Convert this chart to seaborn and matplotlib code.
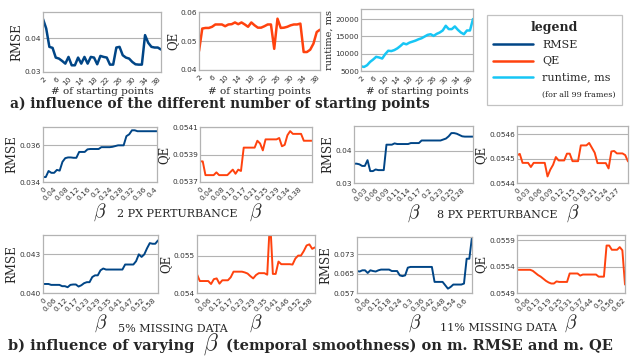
import numpy as np
import matplotlib
matplotlib.use('Agg')
import matplotlib.pyplot as plt
import seaborn as sns
from matplotlib.lines import Line2D
from matplotlib.ticker import MultipleLocator

sns.set_style('white')
plt.rcParams['font.family'] = ['DejaVu Sans']
plt.rcParams['mathtext.fontset'] = 'cm'

RMSE_COLOR = '#004586'
QE_COLOR = '#ff420e'
RUNTIME_COLOR = '#17c6f5'
GRID = '#b3b3b3'
SERIF = 'DejaVu Serif'

# a) number of starting points
starting_points = list(range(2, 40))
sp_ticks = [2, 6, 10, 14, 18, 22, 26, 30, 34, 38]
rmse_sp = [0.0458, 0.043, 0.0375, 0.0372, 0.0343, 0.034, 0.0333, 0.0325, 0.0345, 0.032,
           0.032, 0.0343, 0.0325, 0.0345, 0.0325, 0.0345, 0.0343, 0.0323, 0.0348, 0.0345,
           0.0343, 0.0322, 0.0322, 0.0373, 0.0375, 0.035, 0.0343, 0.034, 0.033, 0.0323,
           0.0322, 0.0322, 0.041, 0.0387, 0.0375, 0.0373, 0.0373, 0.0367]
qe_sp = [0.0465, 0.0543, 0.0545, 0.0545, 0.0549, 0.0557, 0.0557, 0.0557, 0.0551, 0.0557,
         0.0558, 0.0564, 0.0558, 0.0564, 0.0557, 0.0549, 0.0564, 0.0554, 0.0546, 0.0546,
         0.0551, 0.0557, 0.0557, 0.0473, 0.0577, 0.0545, 0.0546, 0.0549, 0.0554, 0.0557,
         0.0557, 0.056, 0.0462, 0.0462, 0.047, 0.0491, 0.0531, 0.0539]
runtime_sp = [6360, 6170, 6660, 7630, 8310, 9090, 8900, 8600, 9870, 10850,
              10750, 11040, 11530, 12210, 12990, 12700, 13190, 13480, 13770, 14160,
              14450, 14940, 15430, 15620, 15130, 15720, 16110, 16700, 18060, 17090,
              17090, 17870, 16890, 16110, 15620, 16700, 16700, 20000]

# b) varying beta, one list per condition
beta_2px_labels = ['0', '0.04', '0.08', '0.12', '0.16', '0.2', '0.24', '0.28', '0.32', '0.36', '0.4']
rmse_2px = [0.03427, 0.03427, 0.0346, 0.0345, 0.0345, 0.03466, 0.03462, 0.0351, 0.0353, 0.03534,
            0.03534, 0.03532, 0.03532, 0.03564, 0.03564, 0.03564, 0.03578, 0.0358, 0.0358, 0.0358,
            0.0358, 0.0359, 0.0359, 0.0359, 0.0359, 0.03592, 0.03596, 0.036, 0.036, 0.036,
            0.0365, 0.0366, 0.03682, 0.03682, 0.03677, 0.03677, 0.03677, 0.03677, 0.03677, 0.03677,
            0.03677, 0.03677]
beta_2px_qe_labels = ['0', '0.04', '0.08', '0.13', '0.17', '0.21', '0.25', '0.29', '0.34', '0.38']
qe_2px = [0.05385, 0.05385, 0.05375, 0.05375, 0.05375, 0.05375, 0.05377, 0.05375, 0.05375, 0.05375,
          0.05375, 0.05377, 0.05379, 0.05376, 0.05379, 0.05378, 0.05395, 0.05395, 0.05395, 0.05395,
          0.05395, 0.054, 0.05398, 0.05393, 0.05401, 0.05401, 0.05401, 0.05401, 0.05401, 0.05402,
          0.05396, 0.05397, 0.05404, 0.05407, 0.05405, 0.05405, 0.05405, 0.05405, 0.054, 0.054,
          0.054, 0.054]

beta_8px_labels = ['0', '0.03', '0.06', '0.09', '0.11', '0.14', '0.17', '0.2', '0.23', '0.25', '0.28']
rmse_8px = [0.036, 0.036, 0.0358, 0.0353, 0.0353, 0.0371, 0.0337, 0.0337, 0.0342, 0.034,
            0.034, 0.034, 0.0419, 0.0419, 0.0419, 0.0423, 0.0421, 0.0421, 0.0421, 0.0421,
            0.0421, 0.0424, 0.0424, 0.0424, 0.0424, 0.0432, 0.0432, 0.0432, 0.0432, 0.0432,
            0.0432, 0.0432, 0.0432, 0.0435, 0.0438, 0.0445, 0.0455, 0.0455, 0.0453, 0.0449,
            0.0445, 0.0444, 0.0444, 0.0444, 0.0444]
beta_8px_qe_labels = ['0', '0.03', '0.06', '0.09', '0.12', '0.15', '0.18', '0.21', '0.24', '0.27']
qe_8px = [0.054514, 0.05452, 0.054483, 0.054483, 0.054483, 0.054466, 0.054483, 0.054483, 0.054483, 0.054483,
          0.054483, 0.054427, 0.054455, 0.054475, 0.054507, 0.054493, 0.054493, 0.054493, 0.054521, 0.054521,
          0.05449, 0.05449, 0.05449, 0.054555, 0.054555, 0.054555, 0.054565, 0.054545, 0.054525, 0.054482,
          0.054482, 0.054482, 0.054482, 0.05446, 0.05453, 0.054532, 0.054522, 0.054522, 0.054522, 0.054515,
          0.054489]

beta_5_labels = ['0', '0.06', '0.12', '0.17', '0.23', '0.29', '0.35', '0.41', '0.47', '0.52', '0.58']
rmse_5 = [0.0407, 0.0407, 0.0407, 0.04063, 0.04063, 0.04063, 0.04063, 0.04053, 0.04053, 0.04045,
          0.04063, 0.04066, 0.04066, 0.0405, 0.0406, 0.04076, 0.04084, 0.04084, 0.04124, 0.04137,
          0.04137, 0.04176, 0.0419, 0.04182, 0.04182, 0.04182, 0.04182, 0.04182, 0.04182, 0.04182,
          0.04221, 0.04221, 0.04221, 0.04221, 0.04247, 0.043, 0.0428, 0.043, 0.04347, 0.04387,
          0.04382, 0.04382, 0.04408]
beta_5_qe_labels = ['0', '0.06', '0.12', '0.17', '0.23', '0.29', '0.35', '0.41', '0.46', '0.52', '0.58']
qe_5 = [0.0545, 0.05432, 0.05432, 0.05432, 0.05432, 0.05424, 0.05437, 0.05439, 0.05425, 0.05434,
        0.05434, 0.05434, 0.05442, 0.05457, 0.05457, 0.05457, 0.05457, 0.05455, 0.05452, 0.05445,
        0.05439, 0.05448, 0.05453, 0.05453, 0.05453, 0.05449, 0.0560, 0.05451, 0.05451, 0.05484,
        0.05477, 0.05477, 0.05477, 0.05477, 0.05476, 0.05492, 0.055, 0.055, 0.05512, 0.05527,
        0.0553, 0.05518, 0.05522]

beta_11_labels = ['0', '0.06', '0.12', '0.18', '0.24', '0.3', '0.36', '0.42', '0.48', '0.54', '0.6']
rmse_11 = [0.0661, 0.0659, 0.0664, 0.0664, 0.0653, 0.0664, 0.0661, 0.0659, 0.0664, 0.0667,
           0.0667, 0.0667, 0.0667, 0.0661, 0.0661, 0.0661, 0.0643, 0.064, 0.0643, 0.0675,
           0.0678, 0.0678, 0.0678, 0.0678, 0.0678, 0.0678, 0.0678, 0.0678, 0.0678, 0.0616,
           0.0616, 0.0616, 0.0616, 0.0602, 0.0588, 0.0595, 0.0605, 0.0605, 0.0605, 0.0605,
           0.0609, 0.0712, 0.0712, 0.0802]
beta_11_qe_labels = ['0', '0.06', '0.13', '0.19', '0.25', '0.31', '0.37', '0.44', '0.5', '0.56', '0.62']
qe_11 = [0.05534, 0.05534, 0.05534, 0.05534, 0.05534, 0.05534, 0.05532, 0.05528, 0.05524, 0.05521,
         0.05517, 0.05513, 0.0551, 0.05508, 0.05508, 0.05512, 0.05511, 0.05511, 0.05511, 0.05511,
         0.05527, 0.05527, 0.05527, 0.05527, 0.05523, 0.05525, 0.05525, 0.05525, 0.05525, 0.05525,
         0.05525, 0.05521, 0.05521, 0.05521, 0.0558, 0.0558, 0.05572, 0.05572, 0.05572, 0.05577,
         0.05571, 0.05506]

W, H = 630, 356
fig = plt.figure(figsize=(W / 100, H / 100), dpi=100)


def rect(x0, y0, x1, y1):
    # pixel box -> figure fraction
    return [x0 / W, 1 - y1 / H, (x1 - x0) / W, (y1 - y0) / H]


def panel(box, x, y, color, xticks, xlabels, yticks, ylabels, ylim, ylabel,
          xlabel, label_drop, minor, lw=1.4, ysize=8.5):
    ax = fig.add_axes(rect(*box))
    sns.lineplot(x=x, y=y, ax=ax, color=color, linewidth=lw)
    ax.set_xlim(x[0], x[-1])
    ax.set_ylim(ylim)
    ax.set_yticks(yticks)
    ax.set_yticklabels(ylabels)
    ax.set_xticks(xticks)
    ax.set_xticklabels(xlabels)
    ax.xaxis.set_minor_locator(MultipleLocator(minor))
    plt.setp(ax.get_xticklabels(), rotation=45, ha='right', rotation_mode='anchor')
    ax.yaxis.grid(True, color=GRID, linewidth=0.8)
    ax.set_axisbelow(True)
    for s in ax.spines.values():
        s.set_color(GRID)
        s.set_linewidth(0.9)
    ax.tick_params(axis='y', length=0, labelsize=5.3, pad=1.5, labelcolor='#333333')
    ax.tick_params(axis='x', which='both', length=2.5, width=0.8, color=GRID, direction='out',
                   labelsize=5.3, pad=0.5, labelcolor='#333333')
    ax.set_ylabel(ylabel, family=SERIF, fontsize=ysize, labelpad=1)
    if xlabel.startswith('$'):
        ax.set_xlabel(xlabel, fontsize=14)
    else:
        ax.set_xlabel(xlabel, family=SERIF, fontsize=7.5)
    hpx = box[3] - box[1]
    ax.xaxis.set_label_coords(0.5, -label_drop / hpx)
    ax.xaxis.label.set_va('center')
    return ax


# row a
ax_r = panel((43, 12, 161, 72), starting_points, rmse_sp, RMSE_COLOR, sp_ticks, sp_ticks,
             [0.03, 0.04], ['0.03', '0.04'], (0.03, 0.0479), 'RMSE', '# of starting points', 20, 1, lw=1.8)
ax_q = panel((199, 12, 320, 70), starting_points, qe_sp, QE_COLOR, sp_ticks, sp_ticks,
             [0.04, 0.05, 0.06], ['0.04', '0.05', '0.06'], (0.04, 0.06), 'QE', '# of starting points', 22, 1, lw=1.8)
ax_t = panel((361, 9, 473, 71), starting_points, runtime_sp, RUNTIME_COLOR, sp_ticks, sp_ticks,
             [5000, 10000, 15000, 20000], ['5000', '10000', '15000', '20000'], (5000, 22900),
             'runtime, ms', '# of starting points', 21, 1, lw=1.8, ysize=7)

beta_panels = [
    ((43, 127, 157, 182), rmse_2px, RMSE_COLOR, beta_2px_labels, [0.034, 0.036], ['0.034', '0.036'], (0.034, 0.037), 'RMSE'),
    ((200, 127, 312, 182), qe_2px, QE_COLOR, beta_2px_qe_labels, [0.0537, 0.0539, 0.0541], ['0.0537', '0.0539', '0.0541'], (0.0537, 0.0541), 'QE'),
    ((354, 126, 473, 183), rmse_8px, RMSE_COLOR, beta_8px_labels, [0.03, 0.04], ['0.03', '0.04'], (0.03, 0.0477), 'RMSE'),
    ((517, 126, 628, 183), qe_8px, QE_COLOR, beta_8px_qe_labels, [0.0544, 0.0545, 0.0546], ['0.0544', '0.0545', '0.0546'], (0.0544, 0.054635), 'QE'),
    ((43, 235, 158, 293), rmse_5, RMSE_COLOR, beta_5_labels, [0.040, 0.043], ['0.040', '0.043'], (0.040, 0.0445), 'RMSE'),
    ((197, 235, 315, 293), qe_5, QE_COLOR, beta_5_qe_labels, [0.054, 0.055], ['0.054', '0.055'], (0.054, 0.05555), 'QE'),
    ((357, 237, 472, 293), rmse_11, RMSE_COLOR, beta_11_labels, [0.057, 0.065, 0.073], ['0.057', '0.065', '0.073'], (0.057, 0.0802), 'RMSE'),
    ((517, 235, 625, 293), qe_11, QE_COLOR, beta_11_qe_labels, [0.0549, 0.0554, 0.0559], ['0.0549', '0.0554', '0.0559'], (0.0549, 0.056), 'QE'),
]
for box, vals, col, labs, yt, ytl, yl, name in beta_panels:
    idx = np.arange(len(vals))
    panel(box, idx, vals, col, idx[::4][:len(labs)], labs, yt, ytl, yl, name,
          r'$\beta$', 30, 0.5)

# captions
cap = dict(family=SERIF, fontsize=8, ha='center', va='center')
fig.text(177 / W, 1 - 214 / H, '2 PX PERTURBANCE', **cap)
fig.text(497 / W, 1 - 215 / H, '8 PX PERTURBANCE', **cap)
fig.text(173 / W, 1 - 329 / H, '5% MISSING DATA', **cap)
fig.text(498 / W, 1 - 328 / H, '11% MISSING DATA', **cap)
fig.text(10 / W, 1 - 104 / H, 'a) influence of the different number of starting points',
         family=SERIF, fontweight='bold', fontsize=9.9, ha='left', va='center')

# title b in three pieces so the beta can be bigger
bold = dict(family=SERIF, fontweight='bold', fontsize=10.5, ha='left', va='baseline')
yb = 1 - 350 / H
t1 = fig.text(8 / W, yb, 'b) influence of varying', **bold)
fig.canvas.draw()
r = fig.canvas.get_renderer()
x_after = t1.get_window_extent(r).x1
t2 = fig.text((x_after + 9) / W, yb, r'$\beta$', fontsize=17, ha='left', va='baseline')
x_after = t2.get_window_extent(r).x1
fig.text((x_after + 7) / W, yb, '(temporal smoothness) on m. RMSE and m. QE', **bold)

# legend
handles = [ax_r.lines[0], ax_q.lines[0], ax_t.lines[0], Line2D([], [], color='none')]
leg = fig.legend(handles, ['RMSE', 'QE', 'runtime, ms', '(for all 99 frames)'],
                 loc='upper right', bbox_to_anchor=(628 / W, 1 - 9 / H), frameon=True,
                 fancybox=False, edgecolor=GRID, title='legend',
                 title_fontproperties={'family': SERIF, 'weight': 'bold', 'size': 9},
                 prop={'family': SERIF, 'size': 8}, handlelength=3.6, handletextpad=0.8,
                 labelspacing=0.55, borderpad=0.6)
leg.get_frame().set_linewidth(0.9)
leg.get_texts()[3].set_fontsize(5.8)
for h in leg.legend_handles[:3]:
    h.set_linewidth(1.8)

fig.savefig('out.png', dpi=100)
